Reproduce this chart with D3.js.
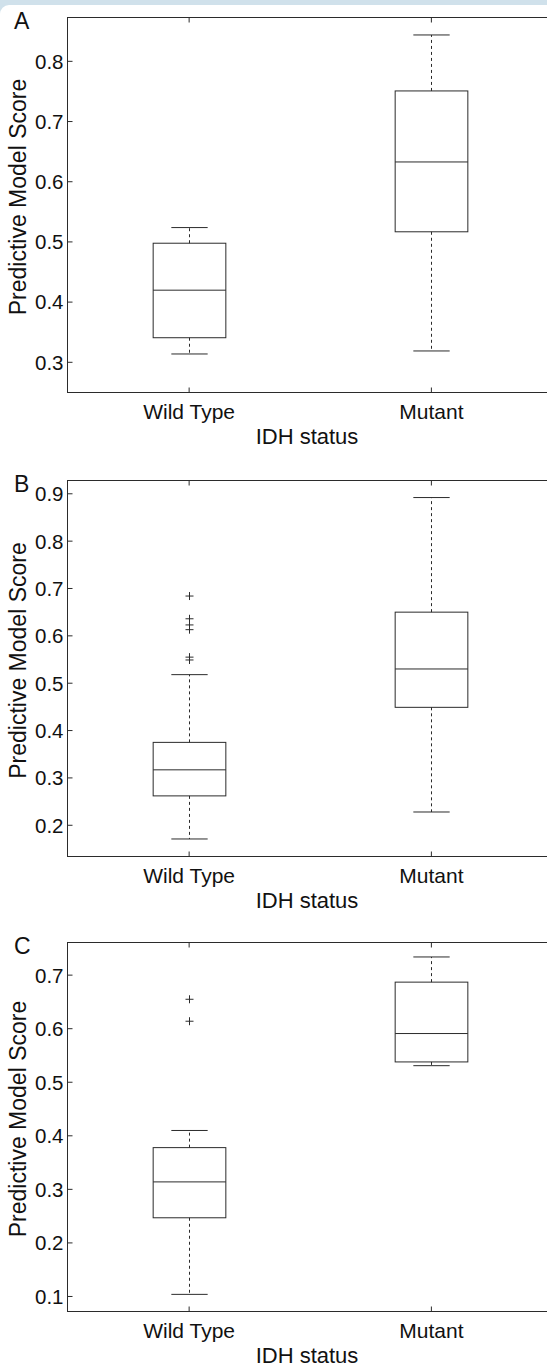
<!DOCTYPE html>
<html>
<head>
<meta charset="utf-8">
<script src="https://cdn.jsdelivr.net/npm/d3@7"></script>
<style>
  body { margin: 0; background: #fff; }
  svg { display: block; font-family: "Liberation Sans", Arial, Helvetica, sans-serif; }
</style>
</head>
<body>
<div id="chart"></div>
<script>
var categories = ["Wild Type", "Mutant"];

// panel A
var lowA = [0.313, 0.318],
    q1A = [0.340, 0.516],
    medA = [0.419, 0.632],
    q3A = [0.497, 0.750],
    highA = [0.523, 0.843],
    outA = [[], []],
    ticksA = [0.3, 0.4, 0.5, 0.6, 0.7, 0.8],
    limA = [0.249, 0.872];

// panel B
var lowB = [0.170, 0.227],
    q1B = [0.261, 0.448],
    medB = [0.316, 0.529],
    q3B = [0.374, 0.649],
    highB = [0.517, 0.891],
    outB = [[0.683, 0.635, 0.622, 0.612, 0.554, 0.548], []],
    ticksB = [0.2, 0.3, 0.4, 0.5, 0.6, 0.7, 0.8, 0.9],
    limB = [0.133, 0.927];

// panel C
var lowC = [0.103, 0.530],
    q1C = [0.246, 0.537],
    medC = [0.313, 0.590],
    q3C = [0.377, 0.686],
    highC = [0.409, 0.733],
    outC = [[0.654, 0.613], []],
    ticksC = [0.1, 0.2, 0.3, 0.4, 0.5, 0.6, 0.7],
    limC = [0.071, 0.760];

var width = 547, height = 1367;
var ink = "#2b2b2b";

var svg = d3.select("#chart").append("svg")
    .attr("width", width)
    .attr("height", height);

// light blue page strip at the top with rounded white sheet
svg.append("rect").attr("x", 0).attr("y", 0).attr("width", width).attr("height", 14).attr("fill", "#d0e1eb");
svg.append("rect").attr("x", 0).attr("y", 5).attr("width", width + 20).attr("height", height).attr("rx", 9).attr("fill", "#fff");

var x = d3.scaleLinear().domain([0.5, 2.5]).range([67.5, 552]);

var panels = [
    {letter: "A", top: 17.5, bottom: 392.5, lim: limA, ticks: ticksA, low: lowA, q1: q1A, med: medA, q3: q3A, high: highA, out: outA},
    {letter: "B", top: 480.5, bottom: 856.5, lim: limB, ticks: ticksB, low: lowB, q1: q1B, med: medB, q3: q3B, high: highB, out: outB},
    {letter: "C", top: 942.5, bottom: 1311.5, lim: limC, ticks: ticksC, low: lowC, q1: q1C, med: medC, q3: q3C, high: highC, out: outC}
];

panels.forEach(drawPanel);

function drawPanel(p) {
    var y = d3.scaleLinear().domain(p.lim).range([p.bottom, p.top]);
    var g = svg.append("g");

    // frame
    g.append("rect")
        .attr("x", x(0.5)).attr("y", p.top)
        .attr("width", x(2.5) - x(0.5)).attr("height", p.bottom - p.top)
        .attr("fill", "none").attr("stroke", ink).attr("stroke-width", 1);

    // left axis, ticks inside
    var left = g.append("g")
        .attr("transform", "translate(" + x(0.5) + ",0)")
        .call(d3.axisLeft(y).tickValues(p.ticks).tickSize(-5).tickPadding(4).tickFormat(d3.format(".1f")));
    styleAxis(left);
    left.selectAll("text").attr("font-size", 20.5).attr("dy", "0.36em");

    // bottom axis with category names
    var bottom = g.append("g")
        .attr("transform", "translate(0," + p.bottom + ")")
        .call(d3.axisBottom(x).tickValues([1, 2]).tickSize(-5).tickPadding(12).tickFormat(function(d) { return categories[d - 1]; }));
    styleAxis(bottom);
    bottom.selectAll("text").attr("font-size", 21);

    // top axis, ticks only
    var topAxis = g.append("g")
        .attr("transform", "translate(0," + p.top + ")")
        .call(d3.axisTop(x).tickValues([1, 2]).tickSize(-5).tickFormat(""));
    styleAxis(topAxis);

    // axis titles
    g.append("text")
        .attr("transform", "translate(26," + ((p.top + p.bottom) / 2 - 8) + ") rotate(-90)")
        .attr("text-anchor", "middle")
        .attr("font-size", 23)
        .attr("fill", "#111")
        .text("Predictive Model Score");

    g.append("text")
        .attr("x", 307)
        .attr("y", p.bottom + 51.5)
        .attr("text-anchor", "middle")
        .attr("font-size", 22)
        .attr("fill", "#111")
        .text("IDH status");

    g.append("text")
        .attr("x", 14)
        .attr("y", p.top + 11)
        .attr("font-size", 23)
        .attr("fill", "#111")
        .text(p.letter);

    // boxes
    var boxHalf = x(1.15) - x(1),
        capHalf = x(1.075) - x(1);

    categories.forEach(function(c, i) {
        var cx = Math.round(x(i + 1)) + 0.5;

        g.append("line")
            .attr("x1", cx).attr("x2", cx)
            .attr("y1", y(p.q3[i])).attr("y2", y(p.high[i]))
            .attr("stroke", ink).attr("stroke-dasharray", "3,3");
        g.append("line")
            .attr("x1", cx).attr("x2", cx)
            .attr("y1", y(p.q1[i])).attr("y2", y(p.low[i]))
            .attr("stroke", ink).attr("stroke-dasharray", "3,3");

        [p.high[i], p.low[i]].forEach(function(v) {
            g.append("line")
                .attr("x1", cx - capHalf).attr("x2", cx + capHalf)
                .attr("y1", y(v)).attr("y2", y(v))
                .attr("stroke", ink);
        });

        g.append("rect")
            .attr("x", cx - boxHalf).attr("y", y(p.q3[i]))
            .attr("width", 2 * boxHalf).attr("height", y(p.q1[i]) - y(p.q3[i]))
            .attr("fill", "none").attr("stroke", ink);

        g.append("line")
            .attr("x1", cx - boxHalf).attr("x2", cx + boxHalf)
            .attr("y1", y(p.med[i])).attr("y2", y(p.med[i]))
            .attr("stroke", ink);

        g.selectAll(".out" + i)
            .data(p.out[i])
            .enter().append("path")
            .attr("d", function(v) {
                var yy = y(v);
                return "M" + (cx - 4) + "," + yy + "H" + (cx + 4) + "M" + cx + "," + (yy - 4) + "V" + (yy + 4);
            })
            .attr("stroke", ink)
            .attr("fill", "none");
    });
}

function styleAxis(sel) {
    sel.select(".domain").remove();
    sel.attr("font-family", null);
    sel.selectAll("line").attr("stroke", ink);
    sel.selectAll("text").attr("fill", "#111");
}
</script>
</body>
</html>
